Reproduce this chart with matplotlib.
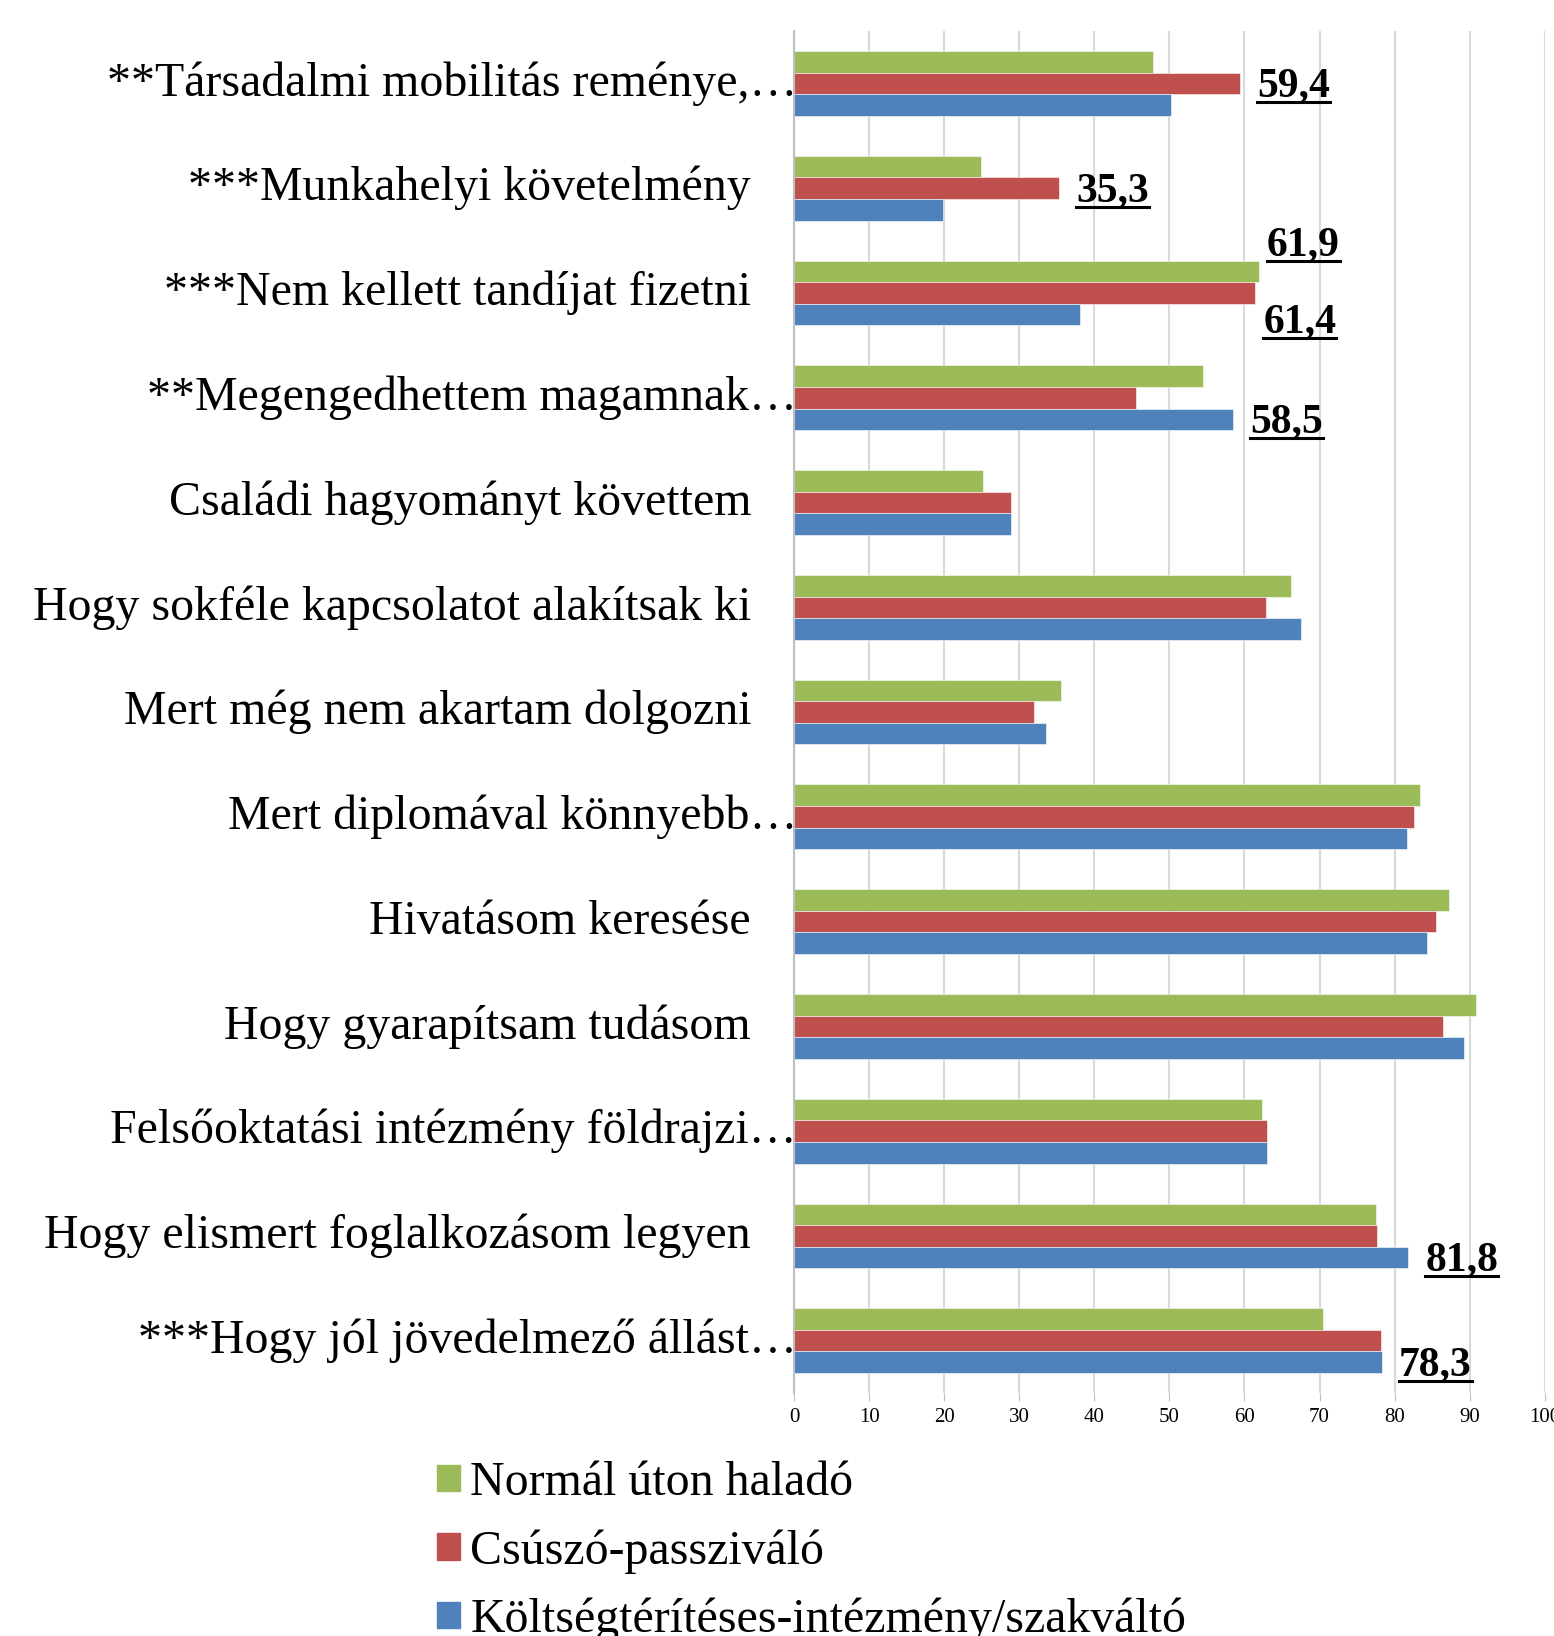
import numpy as np
import matplotlib.pyplot as plt
from matplotlib.patches import Patch
from matplotlib.lines import Line2D

# --- Adatok ---
categories = [
    "**Társadalmi mobilitás reménye,…",
    "***Munkahelyi követelmény",
    "***Nem kellett tandíjat fizetni",
    "**Megengedhettem magamnak…",
    "Családi hagyományt követtem",
    "Hogy sokféle kapcsolatot alakítsak ki",
    "Mert még nem akartam dolgozni",
    "Mert diplomával könnyebb…",
    "Hivatásom keresése",
    "Hogy gyarapítsam tudásom",
    "Felsőoktatási intézmény földrajzi…",
    "Hogy elismert foglalkozásom legyen",
    "***Hogy jól jövedelmező állást…",
]
series_names = ["Normál úton haladó", "Csúszó-passziváló",
                "Költségtérítéses-intézmény/szakváltó"]
normal = [47.8, 24.9, 61.9, 54.5, 25.2, 66.2, 35.5, 83.4, 87.3, 90.8, 62.4, 77.5, 70.4]
csuszo = [59.4, 35.3, 61.4, 45.6, 28.9, 62.9, 31.9, 82.6, 85.5, 86.4, 63.0, 77.6, 78.2]
koltseg = [50.2, 19.9, 38.1, 58.5, 28.9, 67.5, 33.5, 81.6, 84.3, 89.3, 63.0, 81.8, 78.3]
colors = ["#9BBB59", "#C0504D", "#4F81BD"]

# kiemelt értékek: (kategória, sorozat)
highlights = [(0, 1), (1, 1), (2, 0), (2, 1), (3, 2), (11, 2), (12, 2)]
# a két egymás melletti címke eltolása (dx, dy)
nudge = {(2, 0): (-1.2, -0.28), (2, 1): (-1.2, 0.25)}

SERIF = "Liberation Serif"

fig = plt.figure(figsize=(15.54, 16.36), dpi=100)
ax = fig.add_axes([0.511, 0.1485, 0.483, 0.8325])

y = np.arange(len(categories))
h = 0.206
all_series = [normal, csuszo, koltseg]
for k, vals in enumerate(all_series):
    ax.barh(y + (k - 1) * h, vals, height=h, color=colors[k],
            edgecolor="white", linewidth=0.4, zorder=3)

ax.set_xlim(0, 100)
ax.set_ylim(len(categories) - 0.5, -0.5)
ax.set_xticks(np.arange(0, 101, 10))
ax.tick_params(axis="x", length=6, color="#BFBFBF", labelsize=15, pad=5)
for t in ax.get_xticklabels():
    t.set_fontfamily(SERIF)
ax.set_yticks([])
ax.grid(axis="x", color="#D9D9D9", linewidth=1.5, zorder=0)
for s in ["top", "right", "bottom"]:
    ax.spines[s].set_visible(False)
ax.spines["left"].set_color("#BFBFBF")
ax.spines["left"].set_linewidth(1.5)
ax.spines["left"].set_zorder(4)

# kategória feliratok
for i, lab in enumerate(categories):
    off = 3 if lab.endswith("…") else -43
    ax.annotate(lab, xy=(0, i), xycoords=("axes fraction", "data"),
                xytext=(off, 0), textcoords="offset pixels",
                ha="right", va="center", fontsize=34.5, family=SERIF)

# kiemelt értékek
texts = []
for ci, si in highlights:
    v = all_series[si][ci]
    dx, dy = nudge.get((ci, si), (0, 0))
    yy = ci + (si - 1) * h + dy + 0.025
    t = ax.text(v + 2.3 + dx, yy, f"{v:.1f}".replace(".", ","), ha="left",
                va="center", fontsize=30, fontweight="bold", family=SERIF)
    texts.append(t)

# jelmagyarázat
handles = [Patch(color=c) for c in colors]
fig.legend(handles, series_names, loc="upper left",
           bbox_to_anchor=(0.269, 0.1186), frameon=False,
           prop={"family": SERIF, "size": 34.5}, handlelength=0.47,
           handleheight=0.47, handletextpad=0.22, labelspacing=0.5,
           borderaxespad=0)

# aláhúzás
fig.canvas.draw()
r = fig.canvas.get_renderer()
inv = fig.transFigure.inverted()
for t in texts:
    bb = t.get_window_extent(r)
    (x0, y0), (x1, _) = inv.transform([(bb.x0, bb.y0 + 3), (bb.x1, bb.y0)])
    fig.add_artist(Line2D([x0, x1], [y0, y0], color="black", linewidth=2.2))

fig.savefig("out.png", dpi=100)
